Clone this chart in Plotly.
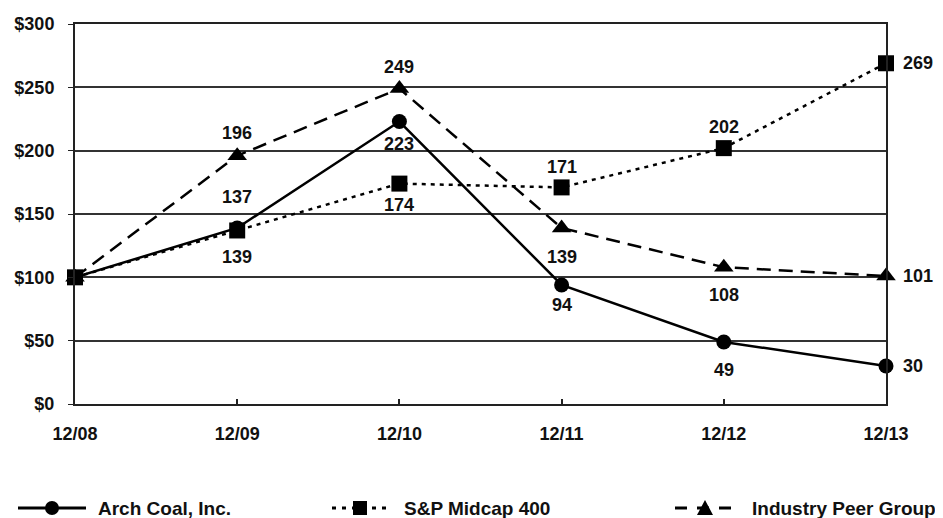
import plotly.graph_objects as go

periods = ["12/08", "12/09", "12/10", "12/11", "12/12", "12/13"]
arch_coal = [100, 139, 223, 94, 49, 30]
sp_midcap = [100, 137, 174, 171, 202, 269]
peer_group = [100, 196, 249, 139, 108, 101]
y_ticks = [0, 50, 100, 150, 200, 250, 300]
y_tick_labels = ["$0", "$50", "$100", "$150", "$200", "$250", "$300"]
series_names = ["Arch Coal, Inc.", "S&P Midcap 400", "Industry Peer Group"]

# label placement offsets (pixels, positive = below); None = no label, "R" = right of point
arch_shift = [None, 29, 22, 20, 28, "R"]
sp_shift = [None, -33, 21, -20, -21, "R"]
peer_shift = [None, -23, -22, 29, 28, "R"]

FONT = "Liberation Sans, Arial, sans-serif"
OFF = 8  # page body margin of the browser
W, H = 943 - OFF, 518 - OFF
# plot area in window pixels: left 75, right 886, top 24, bottom 404
ML, MT = 75 - OFF, 24 - OFF
MR = W - (886 - OFF)
MB = H - (404 - OFF)
PW, PH = W - ML - MR, H - MT - MB


def px_x(p):
    return (p - OFF - ML) / PW


def px_y(p):
    return (H - MB - (p - OFF)) / PH


styles = [
    dict(dash="solid", symbol="circle", size=15),
    dict(dash="4px,5px", symbol="square", size=16),
    dict(dash="14px,8px", symbol="triangle-up", size=17),
]

fig = go.Figure()
for name, vals, st in zip(series_names, [arch_coal, sp_midcap, peer_group], styles):
    fig.add_trace(go.Scatter(x=periods, y=vals, name=name, mode="lines+markers",
                             line=dict(color="black", width=2.5, dash=st["dash"]),
                             marker=dict(symbol=st["symbol"], size=st["size"], color="black"),
                             cliponaxis=False, showlegend=False))

for vals, shifts in [(arch_coal, arch_shift), (sp_midcap, sp_shift), (peer_group, peer_shift)]:
    for i, (v, s) in enumerate(zip(vals, shifts)):
        if s is None:
            continue
        if s == "R":
            fig.add_annotation(x=periods[i], y=v, text=f"<b>{v}</b>", showarrow=False,
                               xanchor="left", xshift=15, font=dict(size=18, color="#111", family=FONT))
        else:
            fig.add_annotation(x=periods[i], y=v, text=f"<b>{v}</b>", showarrow=False,
                               yshift=-s, font=dict(size=18, color="#111", family=FONT))

# custom legend (layout decoration), window pixel positions
legend_items = [
    (18, 86, 52, "solid", "circle", 96),
    (332, 392, 360, "4px,6px", "square", 402),
    (675, 738, 705, "12px,10px", "triangle", 750),
]
LY = 508
shapes = []
for (x0, x1, xm, dash, sym, tx), name in zip(legend_items, series_names):
    shapes.append(dict(type="line", xref="paper", yref="paper", x0=px_x(x0), x1=px_x(x1),
                       y0=px_y(LY), y1=px_y(LY), line=dict(color="black", width=3, dash=dash)))
    if sym == "circle":
        shapes.append(dict(type="circle", xref="paper", yref="paper", x0=px_x(xm - 7), x1=px_x(xm + 7),
                           y0=px_y(LY + 7), y1=px_y(LY - 7), fillcolor="black", line=dict(width=0)))
    elif sym == "square":
        shapes.append(dict(type="rect", xref="paper", yref="paper", x0=px_x(xm - 7), x1=px_x(xm + 7),
                           y0=px_y(LY + 7), y1=px_y(LY - 7), fillcolor="black", line=dict(width=0)))
    else:
        path = (f"M{px_x(xm - 8)},{px_y(LY + 7)} L{px_x(xm + 8)},{px_y(LY + 7)} "
                f"L{px_x(xm)},{px_y(LY - 8)} Z")
        shapes.append(dict(type="path", xref="paper", yref="paper", path=path,
                           fillcolor="black", line=dict(width=0)))
    fig.add_annotation(xref="paper", yref="paper", x=px_x(tx), y=px_y(LY), xanchor="left",
                       yanchor="middle", text=f"<b>{name}</b>", showarrow=False,
                       font=dict(size=19, color="#111", family=FONT))

fig.update_layout(
    width=W, height=H,
    margin=dict(l=ML, r=MR, t=MT, b=MB, autoexpand=False),
    paper_bgcolor="white", plot_bgcolor="white",
    font=dict(family=FONT, size=18, color="#111"),
    showlegend=False,
    shapes=shapes,
    xaxis=dict(type="category", range=[0, 5], showgrid=False, showline=True, linecolor="#222",
               linewidth=2, mirror=True, ticks="inside", ticklen=5, tickcolor="#222", tickwidth=1.5,
               tickfont=dict(size=18, family=FONT, color="#111"), ticklabelstandoff=12,
               tickvals=periods, ticktext=[f"<b>{p}</b>" for p in periods], automargin=False),
    yaxis=dict(range=[0, 300], tickvals=y_ticks, ticktext=[f"<b>{t}</b>" for t in y_tick_labels],
               showgrid=True, gridcolor="#333", gridwidth=1.8, showline=True, linecolor="#222",
               linewidth=2, mirror=True, ticks="outside", ticklen=5, tickcolor="#222",
               ticklabelstandoff=10,
               tickfont=dict(size=18, family=FONT, color="#111"), zeroline=False, automargin=False),
)

fig.write_html("out.html")
